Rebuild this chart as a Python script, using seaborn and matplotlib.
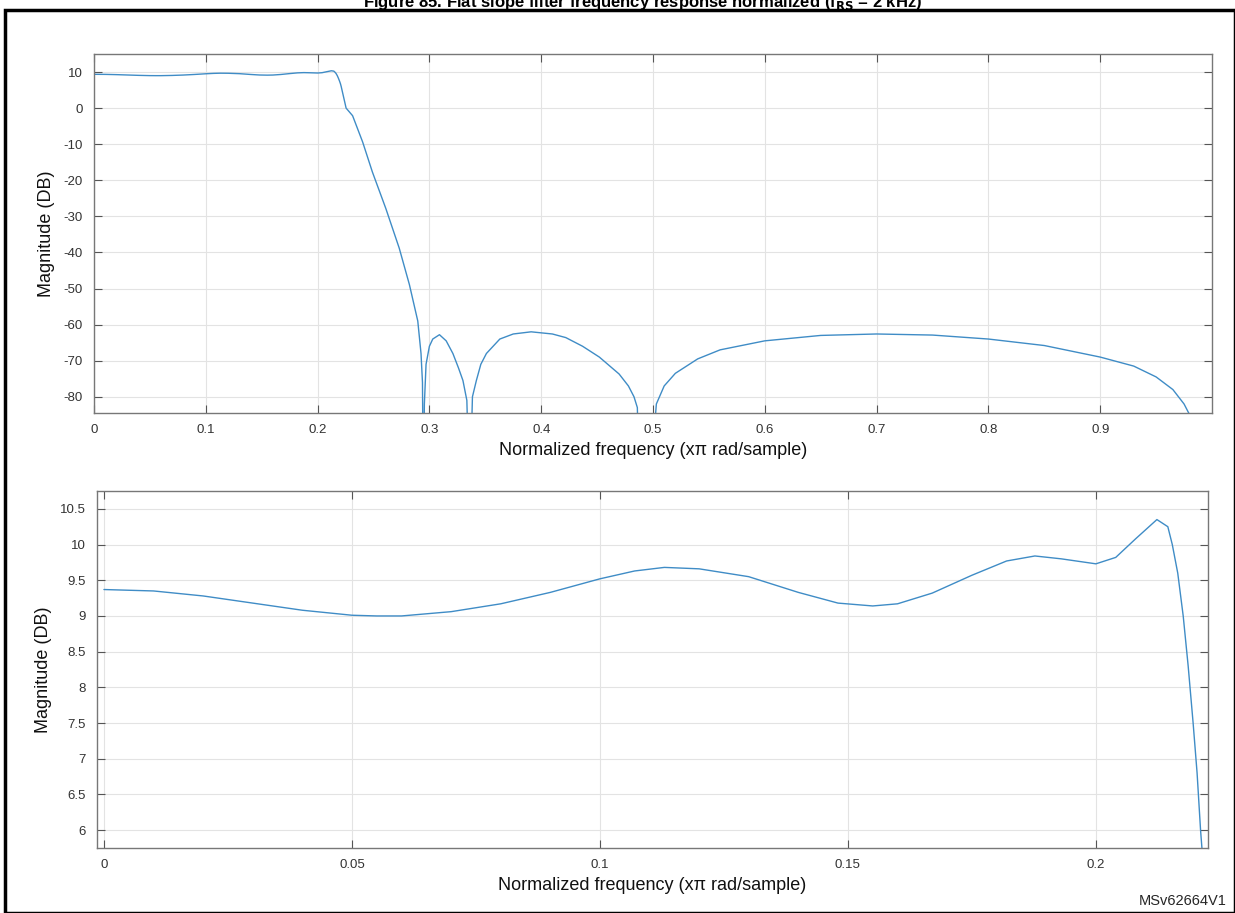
import numpy as np
import pandas as pd
import matplotlib
matplotlib.use("Agg")
import matplotlib.pyplot as plt
import seaborn as sns

# ── data ─────────────────────────────────────────────────────────────────────
# passband detail (bottom panel)
pass_freq = [0.0, 0.01, 0.02, 0.03, 0.04, 0.05, 0.055, 0.06, 0.07, 0.08, 0.09,
             0.1, 0.107, 0.113, 0.12, 0.13, 0.14, 0.148, 0.155, 0.16, 0.167,
             0.175, 0.182, 0.1877, 0.193, 0.2, 0.204, 0.208, 0.2123, 0.2145,
             0.2154, 0.2165, 0.2176, 0.2186, 0.2196, 0.2204, 0.2211, 0.2222]
pass_db = [9.37, 9.35, 9.28, 9.18, 9.08, 9.01, 9.0, 9.0, 9.06, 9.17, 9.33,
           9.52, 9.63, 9.68, 9.66, 9.55, 9.33, 9.18, 9.14, 9.17, 9.32,
           9.57, 9.77, 9.84, 9.8, 9.73, 9.82, 10.08, 10.35, 10.25,
           10.0, 9.6, 9.0, 8.3, 7.5, 6.8, 6.0, 5.0]

# stopband (top panel continues the passband)
stop_freq = [0.2255, 0.2313, 0.2403, 0.249, 0.261, 0.273, 0.2821, 0.2896,
             0.2925, 0.2938, 0.2946, 0.2955, 0.297, 0.3, 0.303, 0.309, 0.315,
             0.321, 0.326, 0.330, 0.3335, 0.336, 0.3385, 0.342, 0.346, 0.351,
             0.363, 0.375, 0.391, 0.41, 0.422, 0.437, 0.452, 0.4697, 0.478,
             0.483, 0.486, 0.488, 0.499, 0.501, 0.503, 0.51, 0.52, 0.54, 0.56,
             0.6, 0.65, 0.7, 0.75, 0.8, 0.85, 0.9, 0.93, 0.95, 0.965, 0.975,
             0.98, 0.985]
stop_db = [0.0, -2.1, -9.4, -17.7, -27.8, -38.8, -48.9, -59,
           -68, -76, -110, -82, -71, -66, -64, -62.8, -64.5,
           -68, -72, -75.5, -81, -110, -80, -75.5, -71, -68,
           -64, -62.6, -62, -62.6, -63.6, -66, -69, -73.7, -77,
           -80, -83, -110, -110, -90, -82, -77, -73.5, -69.5, -67,
           -64.5, -63, -62.6, -62.9, -64, -65.8, -69, -71.5, -74.5, -78, -82,
           -85, -100]

full_freq = [f for f in pass_freq if f < 0.222] + stop_freq
full_db = [d for f, d in zip(pass_freq, pass_db) if f < 0.222] + stop_db

top_yticks = [10, 0, -10, -20, -30, -40, -50, -60, -70, -80]
top_xticks = [0, 0.1, 0.2, 0.3, 0.4, 0.5, 0.6, 0.7, 0.8, 0.9]
bot_yticks = [10.5, 10, 9.5, 9, 8.5, 8, 7.5, 7, 6.5, 6]
bot_xticks = [0, 0.05, 0.1, 0.15, 0.2]

TITLE = "Figure 85. Flat slope filter frequency response normalized (f$_{\\mathbf{RS}}$ = 2 kHz)"
XLABEL = "Normalized frequency (xπ rad/sample)"
YLABEL = "Magnitude (DB)"
LINE_COLOR = "#3f8cc6"

sns.set_theme(style="whitegrid")
plt.rcParams["font.family"] = ["Liberation Sans", "DejaVu Sans"]

W, H = 1235, 913
fig = plt.figure(figsize=(W / 100, H / 100), dpi=100)


def px_axes(left, top, right, bottom):
    return fig.add_axes([left / W, 1 - bottom / H, (right - left) / W, (bottom - top) / H])


def style(ax, xticks, yticks):
    ax.set_xticks(xticks)
    ax.set_yticks(yticks)
    ax.set_xticklabels(["%g" % t for t in xticks])
    ax.set_yticklabels(["%g" % t for t in yticks])
    ax.grid(True, color="#e3e3e3", linewidth=0.8)
    ax.tick_params(direction="in", length=6, width=0.8, colors="#555555",
                   labelcolor="#333333", labelsize=9.5, top=True, right=True,
                   bottom=True, left=True, pad=8)
    for s in ax.spines.values():
        s.set_color("#777777")
        s.set_linewidth(1.0)
    ax.set_xlabel(XLABEL, fontsize=13, color="#111111", labelpad=4)
    ax.set_ylabel(YLABEL, fontsize=13, color="#111111", labelpad=6)


ax1 = px_axes(94, 54, 1212, 413)
sns.lineplot(data=pd.DataFrame({"f": full_freq, "db": full_db}), x="f", y="db",
             ax=ax1, color=LINE_COLOR, linewidth=1.0, sort=False)
ax1.set_xlim(0, 1.0)
ax1.set_ylim(-84.5, 15)
style(ax1, top_xticks, top_yticks)

ax2 = px_axes(97, 491, 1208, 848)
sns.lineplot(data=pd.DataFrame({"f": pass_freq, "db": pass_db}), x="f", y="db",
             ax=ax2, color=LINE_COLOR, linewidth=1.0, sort=False)
ax2.set_xlim(-0.0014, 0.2226)
ax2.set_ylim(5.75, 10.75)
style(ax2, bot_xticks, bot_yticks)

# outer frame and partially cut title
fig.add_artist(plt.Rectangle((5 / W, 0), 1 - 5 / W, 1 - 10 / H, transform=fig.transFigure,
                             fill=False, edgecolor="black", linewidth=2.5))
fig.text(0.52, 1 - 3 / H, TITLE, ha="center", va="center", fontsize=12,
         fontweight="bold", color="black")
fig.text(1 - 8 / W, 12 / H, "MSv62664V1", ha="right", va="center", fontsize=10.5)

fig.savefig("out.png", dpi=100)
